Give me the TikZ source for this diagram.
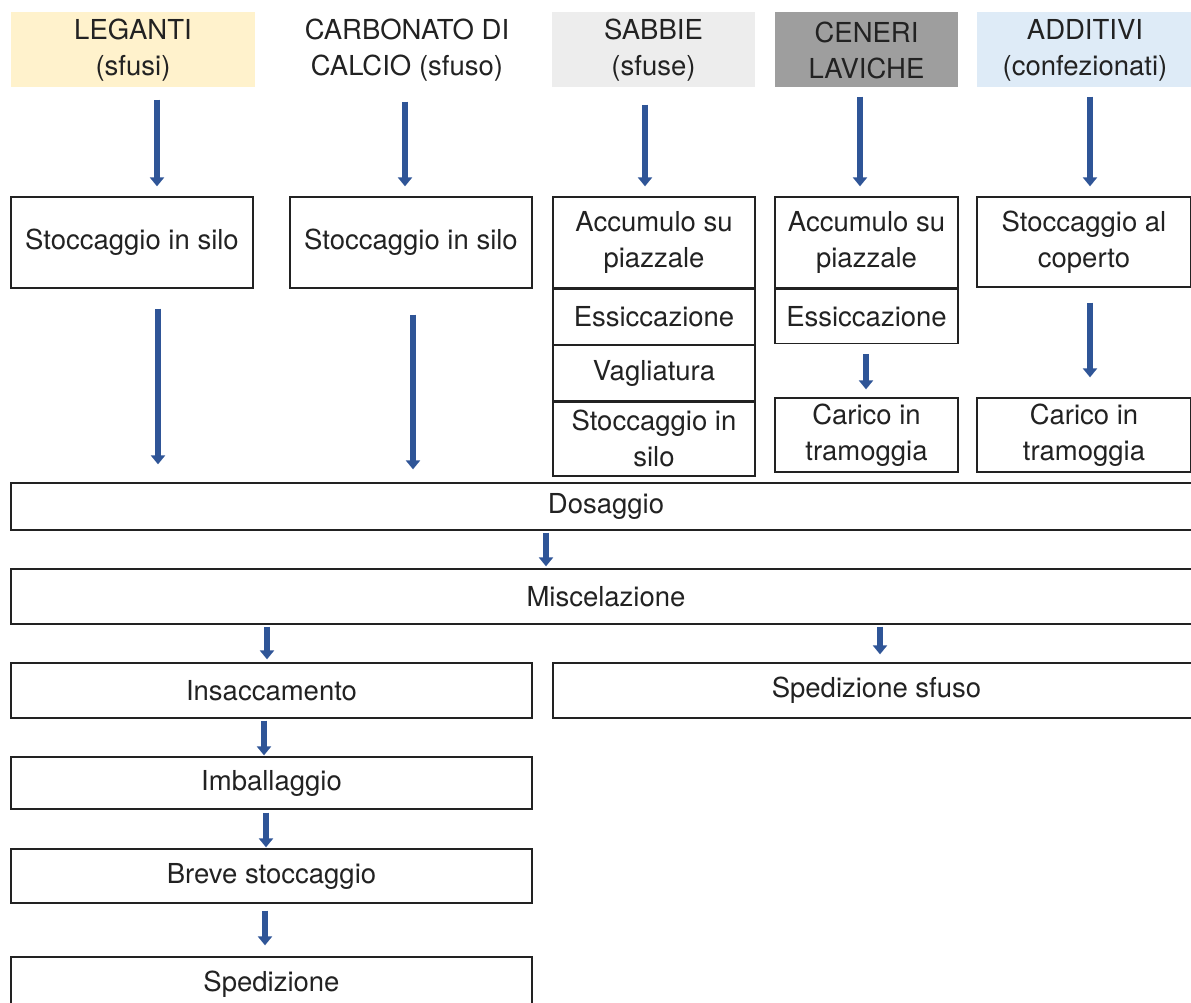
\documentclass[tikz,border=0pt]{standalone}
\usepackage{fontspec}
\setmainfont{TeX Gyre Heros}
\usetikzlibrary{positioning,arrows.meta}
\definecolor{LegYellow}{RGB}{255,242,204}
\definecolor{SandGray}{RGB}{237,237,237}
\definecolor{AshGray}{RGB}{158,158,158}
\definecolor{AddBlue}{RGB}{222,235,247}
\definecolor{FlowBlue}{RGB}{47,85,151}
\definecolor{InkGray}{RGB}{34,34,34}

\begin{document}
\begin{tikzpicture}[
  x=1pt, y=-1pt,
  hdr/.style={
    rectangle, draw=none, text=InkGray,
    minimum height=75pt, inner sep=0pt,
    align=center, font=\fontsize{27.5}{36}\selectfont
  },
  box/.style={
    rectangle, draw=InkGray, line width=1.3pt, fill=white, text=InkGray,
    inner sep=0pt, align=center, font=\fontsize{27.5}{36}\selectfont
  },
  flow/.style={draw=FlowBlue, line width=5.5pt,
    -{Triangle[width=14pt,length=9pt]}}
]
\useasboundingbox (0,0) rectangle (1191,1003);
\clip (0,0) rectangle (1191,1003);

%% Header row -- raw materials
\node[hdr, fill=LegYellow, minimum width=244pt] (leg) at (133,50) {LEGANTI\\(sfusi)};
\node[hdr, minimum width=236pt] (carb) at (407,50) {CARBONATO DI\\CALCIO (sfuso)};
\node[hdr, fill=SandGray, minimum width=203pt] (sab) at (653.5,50) {SABBIE\\(sfuse)};
\node[hdr, fill=AshGray, minimum width=183pt] (cen) at (866.5,50) {CENERI\\LAVICHE};
\node[hdr, fill=AddBlue, minimum width=216pt] (add) at (1085,50) {ADDITIVI\\(confezionati)};

%% Storage / pre-treatment
\node[box, minimum width=242pt, minimum height=91pt] (legs) at (132,242.5) {Stoccaggio in silo};
\node[box, minimum width=242pt, minimum height=91pt] (carbs) at (411,242.5) {Stoccaggio in silo};

\node[box, minimum width=202pt, minimum height=91pt] (sab1) at (654,242.5) {Accumulo su\\piazzale};
\node[box, minimum width=202pt, minimum height=55pt, below=0pt of sab1] (sab2) {Essiccazione};
\node[box, minimum width=202pt, minimum height=55pt, below=0pt of sab2] (sab3) {Vagliatura};
\node[box, minimum width=202pt, minimum height=74pt, below=0pt of sab3] (sab4) {Stoccaggio in\\silo};

\node[box, minimum width=183pt, minimum height=91pt] (cen1) at (866.5,242.5) {Accumulo su\\piazzale};
\node[box, minimum width=183pt, minimum height=54pt, below=0pt of cen1] (cen2) {Essiccazione};
\node[box, minimum width=183pt, minimum height=74pt] (cen3) at (866.5,435) {Carico in\\tramoggia};

\node[box, minimum width=214pt, minimum height=90pt] (add1) at (1084,242) {Stoccaggio al\\coperto};
\node[box, minimum width=214pt, minimum height=74pt] (add2) at (1084,435) {Carico in\\tramoggia};

%% Common line
\node[box, minimum width=1190pt, minimum height=47pt] (dos) at (606,506.5) {Dosaggio};
\node[box, minimum width=1190pt, minimum height=55pt] (mis) at (606,596.5) {Miscelazione};
\node[box, minimum width=521pt, minimum height=55pt] (ins) at (271.5,690.5) {Insaccamento};
\node[box, minimum width=647pt, minimum height=55pt] (sfu) at (876.5,690.5) {Spedizione sfuso};
\node[box, minimum width=521pt, minimum height=52pt] (imb) at (271.5,783) {Imballaggio};
\node[box, minimum width=521pt, minimum height=54pt] (brv) at (271.5,876) {Breve stoccaggio};
\node[box, minimum width=521pt, minimum height=54pt] (spd) at (271.5,984) {Spedizione};

%% Arrows
\draw[flow, shorten <=12pt, shorten >=10pt] (leg.south -| 157,0) -- (legs.north -| 157,0);
\draw[flow, shorten <=14pt, shorten >=10pt] (carb.south -| 405,0) -- (carbs.north -| 405,0);
\draw[flow, shorten <=17pt, shorten >=10pt] (sab.south -| 645,0) -- (sab1.north -| 645,0);
\draw[flow, shorten <=9pt, shorten >=10pt] (cen.south -| 860,0) -- (cen1.north -| 860,0);
\draw[flow, shorten <=9pt, shorten >=10pt] (add.south -| 1090,0) -- (add1.north -| 1090,0);

\draw[flow, shorten <=20pt, shorten >=18pt] (legs.south -| 158,0) -- (dos.north -| 158,0);
\draw[flow, shorten <=26pt, shorten >=13pt] (carbs.south -| 413,0) -- (dos.north -| 413,0);
\draw[flow, shorten <=10pt, shorten >=8pt] (cen2.south -| 866,0) -- (cen3.north -| 866,0);
\draw[flow, shorten <=15pt, shorten >=20pt] (add1.south -| 1090,0) -- (add2.north -| 1090,0);

\draw[flow, shorten <=2pt, shorten >=2pt] (dos.south -| 546,0) -- (mis.north -| 546,0);
\draw[flow, shorten <=2pt, shorten >=3pt] (mis.south -| 267,0) -- (ins.north -| 267,0);
\draw[flow, shorten <=2pt, shorten >=8pt] (mis.south -| 880,0) -- (sfu.north -| 880,0);
\draw[flow, shorten <=2pt, shorten >=1pt] (ins.south -| 264,0) -- (imb.north -| 264,0);
\draw[flow, shorten <=3pt, shorten >=1pt] (imb.south -| 266,0) -- (brv.north -| 266,0);
\draw[flow, shorten <=7pt, shorten >=11pt] (brv.south -| 265,0) -- (spd.north -| 265,0);

\end{tikzpicture}
\end{document}
